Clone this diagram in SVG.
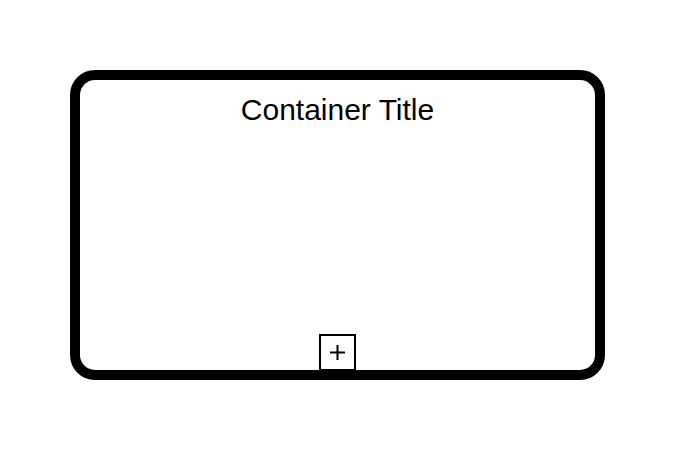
<svg xmlns="http://www.w3.org/2000/svg" width="677" height="452" viewBox="0 0 677 452">
<style>
.container{fill:#fff;stroke:#000;stroke-width:10}
.title{font-family:"Liberation Sans",Arial,sans-serif;font-size:30px;fill:#000;text-anchor:middle}
.marker{fill:#fff;stroke:#000;stroke-width:2}
.plus{stroke:#000;stroke-width:2;fill:none}
</style>
<rect width="677" height="452" fill="#fff"/>
<g id="container">
<rect class="container" x="75" y="75" width="525" height="300" rx="20" ry="20"/>
<text class="title" x="337.5" y="120">Container Title</text>
</g>
<g id="expand-marker">
<rect class="marker" x="320" y="335" width="35" height="35"/>
<path class="plus" d="M330 352.5H345M337.5 345V360"/>
</g>
<g id="connectors"></g>
</svg>
